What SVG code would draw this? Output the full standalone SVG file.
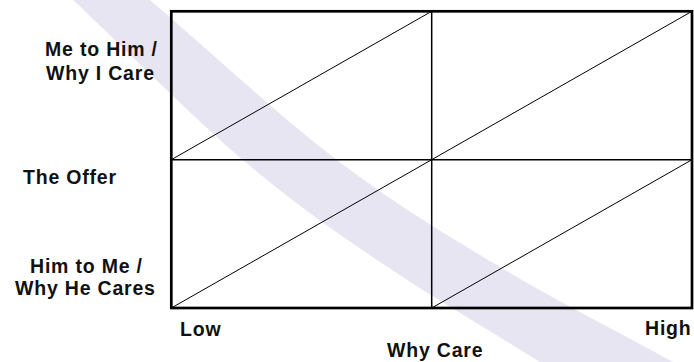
<svg xmlns="http://www.w3.org/2000/svg" width="694" height="362" viewBox="0 0 694 362">
<style>
.lbl{font-family:"Liberation Sans",Arial,sans-serif;font-weight:bold;font-size:19.5px;letter-spacing:0.8px;fill:#111}
.thin{stroke:#000;stroke-width:1;fill:none}
.mid{stroke:#000;stroke-width:1.5;fill:none}
</style>
<rect width="694" height="362" fill="#fff"/>
<path id="band" fill="#e7e5f2" d="M73,0 C129.7,53.3 192.3,116.7 243,160 C293.7,203.3 327.5,226.3 377,260 C426.5,293.7 485.7,328 540,362 L673,362 C615.3,330.3 556,300.7 500,267 C444,233.3 395.3,204.5 337,160 C278.7,115.5 212.3,53.3 150,0 Z"/>
<g id="grid">
<line class="mid" x1="431.7" y1="11.3" x2="431.7" y2="308"/>
<line class="mid" x1="171.3" y1="159.7" x2="692" y2="159.7"/>
</g>
<g id="connectors">
<line class="thin" x1="171.3" y1="159.7" x2="431.7" y2="11.3"/>
<line class="thin" x1="431.7" y1="159.7" x2="692" y2="11.3"/>
<line class="thin" x1="171.3" y1="308" x2="431.7" y2="159.7"/>
<line class="thin" x1="431.7" y1="308" x2="692" y2="159.7"/>
</g>
<rect id="frame" x="171.3" y="11.3" width="520.7" height="296.7" fill="none" stroke="#000" stroke-width="2.7"/>
<g id="label-me-to-him"><text class="lbl" x="45" y="55.5">Me to Him /</text><text class="lbl" x="46" y="80">Why I Care</text></g>
<g id="label-offer"><text class="lbl" x="23" y="183.5">The Offer</text></g>
<g id="label-him-to-me"><text class="lbl" x="30" y="273">Him to Me /</text><text class="lbl" x="15" y="295">Why He Cares</text></g>
<g id="label-low"><text class="lbl" x="180" y="335.5">Low</text></g>
<g id="label-high"><text class="lbl" x="645" y="335">High</text></g>
<g id="label-why-care"><text class="lbl" x="387" y="357">Why Care</text></g>
</svg>
